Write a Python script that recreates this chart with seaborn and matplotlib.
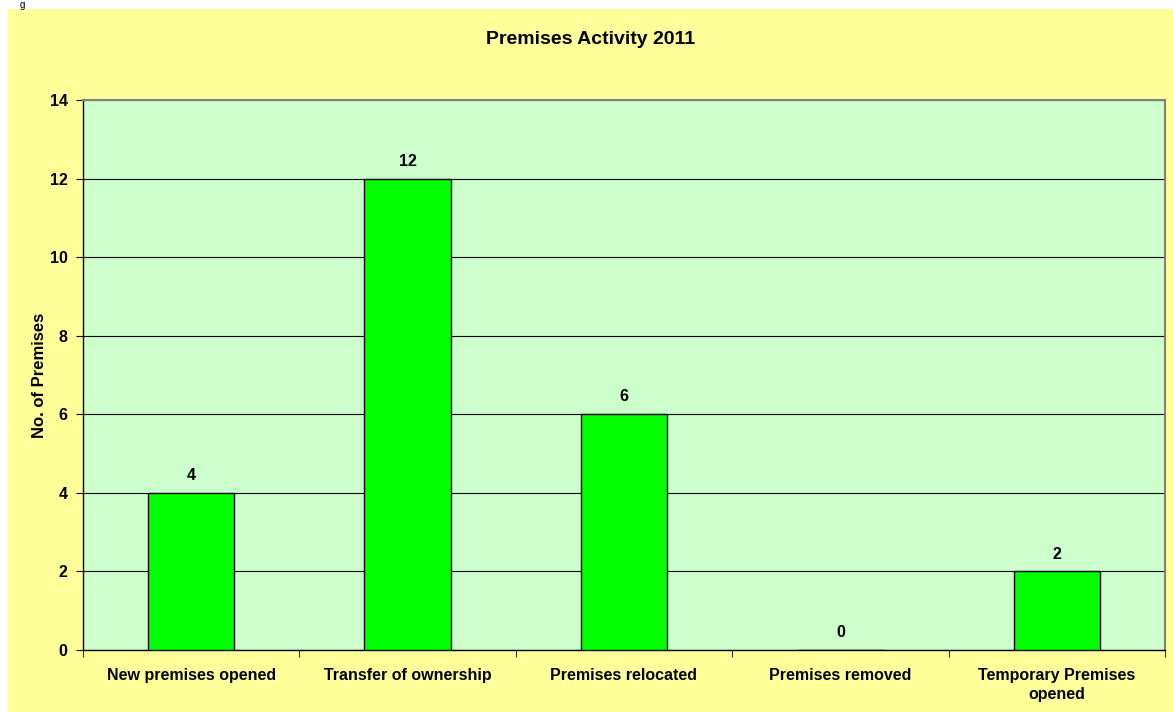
import matplotlib
matplotlib.use("Agg")
import matplotlib.pyplot as plt
import seaborn as sns
import pandas as pd
from matplotlib.patches import Rectangle

categories = ["New premises opened", "Transfer of ownership", "Premises relocated",
              "Premises removed", "Temporary Premises\nopened"]
values = [4, 12, 6, 0, 2]
y_ticks = [0, 2, 4, 6, 8, 10, 12, 14]

sns.set_style("white")
plt.rcParams["font.family"] = ["Liberation Sans", "DejaVu Sans"]
plt.rcParams["font.weight"] = "bold"
plt.rcParams["text.color"] = "black"
plt.rcParams["axes.labelcolor"] = "black"
plt.rcParams["xtick.color"] = "black"
plt.rcParams["ytick.color"] = "black"

df = pd.DataFrame({"category": categories, "value": values})

fig = plt.figure(figsize=(11.73, 7.12), dpi=100, facecolor="white")
# yellow chart area behind the axes
fig.patches.append(Rectangle((8 / 1173, 0), 1 - 8 / 1173, 1 - 9 / 712,
                             transform=fig.transFigure, facecolor="#FFFF99",
                             edgecolor="none", zorder=-5))
fig.text(20 / 1173, 1.0, "g", fontsize=7, va="top", ha="left",
         fontweight="normal")
# title centred on the chart area
fig.text(590.5 / 1173, 1 - 40 / 712, "Premises Activity 2011", fontsize=14,
         fontweight="bold", ha="center", va="center")

ax = fig.add_axes([83 / 1173, 62 / 712, (1165 - 83) / 1173, (650 - 100) / 712])
ax.set_facecolor("#CCFFCC")

sns.barplot(data=df, x="category", y="value", color="#00FF00", width=0.4,
            edgecolor="black", linewidth=1, saturation=1, ax=ax, zorder=3)

ax.set_ylim(0, 14)
ax.set_xlim(-0.5, len(categories) - 0.5)
ax.set_yticks(y_ticks)
ax.yaxis.grid(True, color="black", linewidth=0.8, zorder=0)
ax.set_axisbelow(True)

for i, v in enumerate(values):
    ax.text(i, v + 0.25, str(v), ha="center", va="bottom", fontsize=11.5,
            fontweight="bold")

ax.set_xlabel("")
ax.set_ylabel("No. of Premises", fontsize=12, fontweight="bold", labelpad=2)
ax.tick_params(axis="both", labelsize=11.5, length=0, pad=6)
ax.tick_params(axis="y", length=5, direction="out", left=True)
ax.set_xticks(range(len(categories)))
ax.set_xticklabels(categories, fontweight="bold", va="top", linespacing=1.35)
ax.tick_params(axis="x", pad=13)
# category boundary ticks
ax.set_xticks([i - 0.5 for i in range(len(categories) + 1)], minor=True)
ax.tick_params(axis="x", which="minor", length=5, direction="out", bottom=True,
               color="black")

for side in ["top", "right"]:
    ax.spines[side].set_color("#808080")
    ax.spines[side].set_linewidth(1.5)
for side in ["left", "bottom"]:
    ax.spines[side].set_color("black")
    ax.spines[side].set_linewidth(1)

fig.savefig("out.png", dpi=100, facecolor="white")
